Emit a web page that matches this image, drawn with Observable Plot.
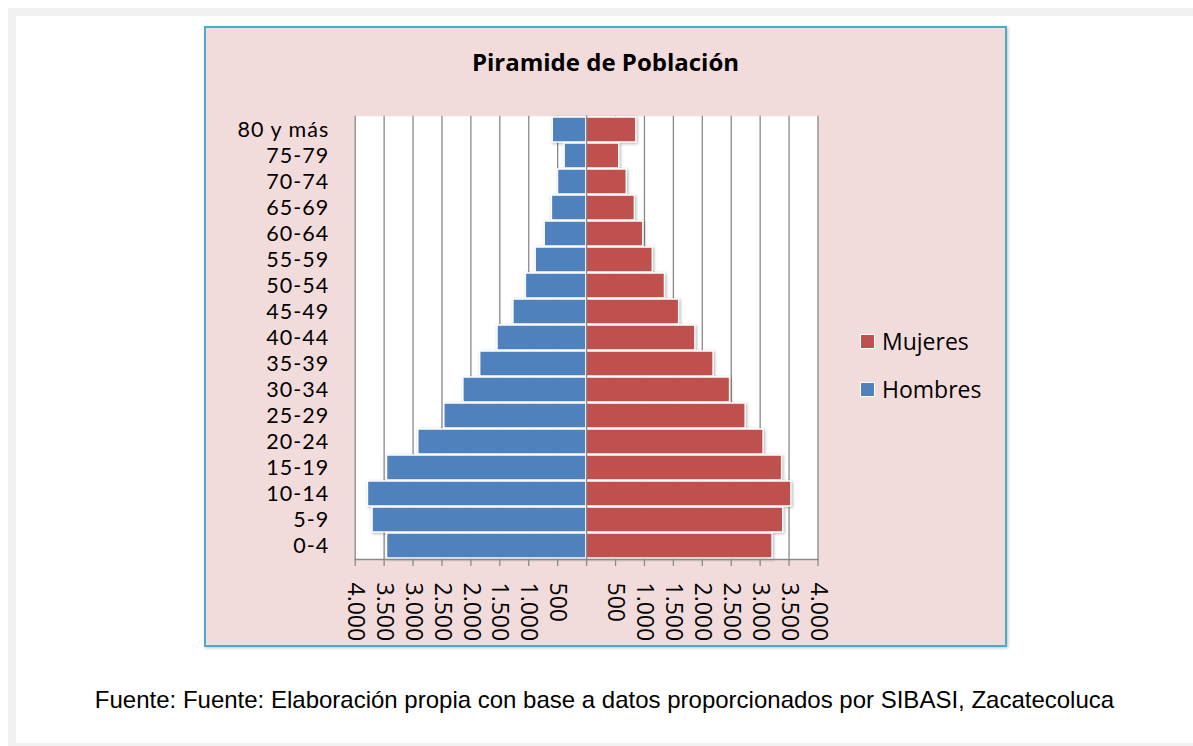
<!DOCTYPE html>
<html>
<head>
<meta charset="utf-8">
<script src="https://cdn.jsdelivr.net/npm/d3@7"></script>
<script src="https://cdn.jsdelivr.net/npm/@observablehq/plot@0.6"></script>
<style>
  html, body { margin: 0; padding: 0; background: #ffffff; }
  #page { position: relative; width: 1193px; height: 746px; overflow: hidden; background: #ffffff; }
  #frame { position: absolute; left: 8px; top: 8px; width: 1193px; height: 746px; box-sizing: border-box;
           border-left: 8px solid #f0f0f0; border-top: 8px solid #f0f0f0; }
  #bottomband { position: absolute; left: 8px; top: 743px; width: 1185px; height: 10px; background: #f0f0f0; }
  #box { position: absolute; left: 204px; top: 26px; width: 803px; height: 621px; box-sizing: border-box;
         background: #f2dcdb; border: 2px solid #4bacc6; box-shadow: 1px 1px 3px rgba(0,0,0,0.25); }
  #chart { position: absolute; left: 0; top: 0; }
  #title { position: absolute; left: 204px; width: 803px; top: 45px; text-align: center;
           font-family: "Open Sans", sans-serif; font-weight: bold; font-size: 24px; color: #000; }
  .leg { position: absolute; left: 860px; font-family: "Open Sans", sans-serif; font-size: 23px; color: #000; line-height: 1; }
  .leg .sw { position: absolute; left: 0; top: 4px; width: 15px; height: 15px; box-sizing: border-box; border: 1px solid #fff; }
  .leg .lb { position: absolute; left: 22px; top: 0; white-space: nowrap; }
  #caption { position: absolute; left: 16px; width: 1177px; top: 686px; text-align: center;
             font-family: "Liberation Sans", Arial, sans-serif; font-size: 24px; color: #000; }
  .ylab text { letter-spacing: 1px; }
</style>
</head>
<body>
<div id="page">
  <div id="frame"></div>
  <div id="bottomband"></div>
  <div id="box"></div>
  <div id="chart"></div>
  <div id="title">Piramide de Población</div>
  <div class="leg" style="top:330px"><div class="sw" style="background:#c0504d"></div><div class="lb">Mujeres</div></div>
  <div class="leg" style="top:378px"><div class="sw" style="background:#4f81bd"></div><div class="lb">Hombres</div></div>
  <div id="caption">Fuente: Fuente: Elaboración propia con base a datos proporcionados por SIBASI, Zacatecoluca</div>
</div>
<script>
// Age groups (bottom to top)
const categories = ["0-4","5-9","10-14","15-19","20-24","25-29","30-34","35-39","40-44","45-49","50-54","55-59","60-64","65-69","70-74","75-79","80 y más"];
// Hombres (men) population per age group
const hombres = [3450, 3700, 3780, 3450, 2910, 2460, 2130, 1840, 1540, 1265, 1050, 880, 725, 600, 495, 380, 585];
// Mujeres (women) population per age group
const mujeres = [3215, 3400, 3540, 3380, 3060, 2750, 2480, 2195, 1880, 1600, 1355, 1145, 980, 835, 695, 565, 860];
// Axis tick values
const xTicks = [-4000, -3500, -3000, -2500, -2000, -1500, -1000, -500, 0, 500, 1000, 1500, 2000, 2500, 3000, 3500, 4000];

const series = ["Hombres", "Mujeres"];
const colors = ["#4f81bd", "#c0504d"];

const data = [];
categories.forEach((c, i) => {
  data.push({group: c, sex: "Hombres", value: -hombres[i]});
  data.push({group: c, sex: "Mujeres", value: mujeres[i]});
});

const locale = d3.formatLocale({decimal: ",", thousands: ".", grouping: [3], currency: ["", ""]});
const fmt = locale.format(",");

const W = 1193, H = 746;
const x0 = 354.7, x1 = 817.5, y0 = 115.7, y1 = 559;
const font = "Open Sans, sans-serif";

const chart = Plot.plot({
  width: W,
  height: H,
  marginLeft: x0,
  marginRight: W - x1,
  marginTop: y0,
  marginBottom: H - y1,
  style: {background: "transparent", overflow: "visible"},
  x: {domain: [-4000, 4000], axis: null, label: null},
  y: {domain: categories.slice().reverse(), paddingInner: 0.05, paddingOuter: 0.01, axis: null, label: null},
  color: {domain: series, range: colors},
  marks: [
    Plot.frame({fill: "white", stroke: null}),
    Plot.ruleX(xTicks, {stroke: "#8a8a8a", strokeWidth: 1.3}),
    Plot.barX(data, {x: "value", y: "group", fill: "sex", stroke: "white", strokeWidth: 1.5}),
    Plot.ruleX([0], {stroke: "#8a8a8a", strokeWidth: 1.3}),
    Plot.axisX(xTicks, {anchor: "bottom", tickSize: 7, stroke: "#8a8a8a", strokeWidth: 1.3, tickFormat: () => "", label: null}),
    Plot.frame({anchor: "bottom", stroke: "#8a8a8a", strokeWidth: 1.3}),
    Plot.text(xTicks.filter(d => d !== 0), {
      x: d => d, text: d => fmt(Math.abs(d)), frameAnchor: "bottom", dy: 23,
      rotate: 90, textAnchor: "start", lineAnchor: "middle",
      fontSize: 23, fontFamily: font, fill: "black"
    }),
    Plot.text(categories, {
      y: d => d, text: d => d, frameAnchor: "left", dx: -26, textAnchor: "end",
      fontSize: 21.5, fontFamily: "Lato, sans-serif", fill: "black", className: "ylab"
    })
  ]
});
chart.querySelectorAll('g[aria-label="bar"]').forEach(g => {
  g.style.filter = "drop-shadow(1.5px 1.5px 1.5px rgba(0,0,0,0.3))";
});
document.getElementById("chart").appendChild(chart);
</script>
</body>
</html>
